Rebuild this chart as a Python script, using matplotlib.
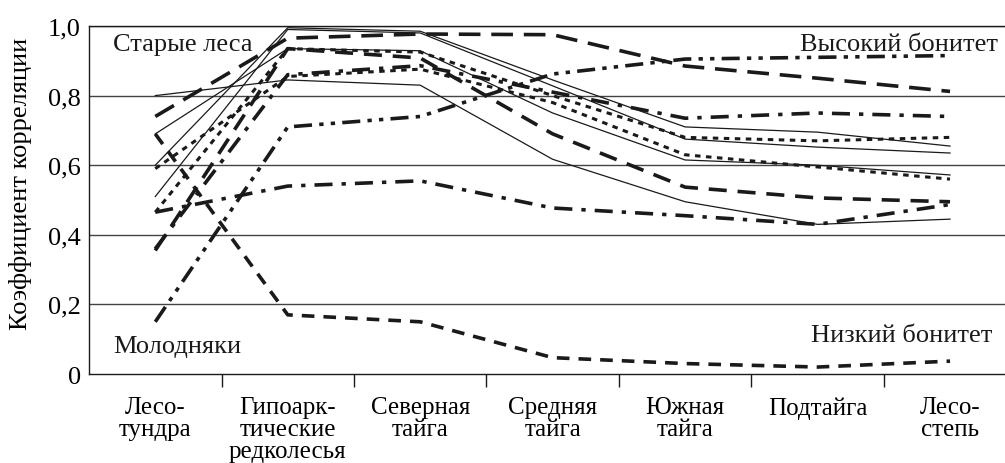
import matplotlib.pyplot as plt

plt.rcParams['font.family'] = ['Liberation Serif', 'DejaVu Serif']

# Зоны (ось X)
zones = ["Лесо-\nтундра", "Гипоарк-\nтические\nредколесья", "Северная\nтайга",
         "Средняя\nтайга", "Южная\nтайга", "Подтайга", "Лесо-\nстепь"]

# Коэффициенты корреляции по зонам (оценка по рисунку)
solid_a = [0.60, 0.995, 0.985, 0.845, 0.71, 0.695, 0.655]
solid_b = [0.51, 0.99, 0.98, 0.828, 0.675, 0.652, 0.635]
solid_c = [0.69, 0.935, 0.929, 0.75, 0.615, 0.60, 0.572]
solid_d = [0.80, 0.845, 0.83, 0.617, 0.495, 0.43, 0.445]
long_dash = [0.74, 0.965, 0.977, 0.975, 0.885, 0.85, 0.812]
dashed_mid = [0.355, 0.935, 0.908, 0.69, 0.537, 0.506, 0.495]
dash_dot_hi = [0.36, 0.86, 0.886, 0.81, 0.735, 0.75, 0.74]
dash_dot_lo = [0.465, 0.54, 0.555, 0.477, 0.455, 0.43, 0.487]
dash_dot_dot = [0.15, 0.71, 0.74, 0.862, 0.905, 0.91, 0.915]
dotted_hi = [0.465, 0.935, 0.925, 0.80, 0.68, 0.67, 0.68]
dotted_lo = [0.59, 0.855, 0.876, 0.78, 0.63, 0.595, 0.56]
young = [0.69, 0.17, 0.15, 0.047, 0.03, 0.02, 0.037]

x = list(range(len(zones)))
ink = '#1a1a1a'
fs = 19

fig = plt.figure(figsize=(10.05, 4.64), dpi=100)
ax = fig.add_axes([0.0886, 0.1918, 0.9114, 0.75])

# horizontal grid
for g in [0.2, 0.4, 0.6, 0.8, 1.0]:
    ax.axhline(g, color='#444444', lw=1.0, zorder=1)

# thin solid lines
for s in [solid_a, solid_b, solid_c, solid_d]:
    ax.plot(x, s, color=ink, lw=0.9, zorder=3)

ax.plot(x, long_dash, color=ink, lw=2.6, dashes=(6, 3), zorder=3)
ax.plot(x, dashed_mid, color=ink, lw=2.6, dashes=(5, 3), zorder=3)
ax.plot(x, dash_dot_hi, color=ink, lw=2.6, dashes=(5, 2.5, 1.2, 2.5), zorder=3)
ax.plot(x, dash_dot_lo, color=ink, lw=2.6, dashes=(5, 2.5, 1.2, 2.5), zorder=3)
ax.plot(x, dash_dot_dot, color=ink, lw=2.6, dashes=(5, 2, 1.2, 2, 1.2, 2), zorder=3)
ax.plot(x, dotted_hi, color=ink, lw=2.2, dashes=(1.8, 1.8), zorder=3)
ax.plot(x, dotted_lo, color=ink, lw=2.2, dashes=(1.8, 1.8), zorder=3)
ax.plot(x, young, color=ink, lw=2.6, dashes=(3.5, 2.5), zorder=3)

ax.set_xlim(-0.5, 6.415)
ax.set_ylim(0, 1.0)

# boundary ticks and centered labels
ax.set_xticks([i + 0.5 for i in range(6)])
ax.set_xticklabels([])
ax.set_xticks(x, minor=True)
ax.set_xticklabels(zones, minor=True, fontsize=18, linespacing=0.98, va='top')
ax.tick_params(axis='x', which='major', length=9, width=1.0, direction='out', color=ink)
ax.tick_params(axis='x', which='minor', length=0, pad=16)

yt = [0, 0.2, 0.4, 0.6, 0.8, 1.0]
ax.set_yticks(yt)
ax.set_yticklabels(["0", "0,2", "0,4", "0,6", "0,8", "1,0"], fontsize=fs)
ax.tick_params(axis='y', length=0, pad=6)
ax.set_ylabel("Коэффициент корреляции", fontsize=fs)
ax.yaxis.set_label_coords(-0.062, 0.55)

ax.spines['right'].set_visible(False)
for sp in ['left', 'bottom', 'top']:
    ax.spines[sp].set_color(ink)
    ax.spines[sp].set_linewidth(1.0)

ax.text(-0.32, 0.948, "Старые леса", fontsize=fs, ha='left', va='center', color=ink)
ax.text(6.36, 0.948, "Высокий бонитет", fontsize=fs, ha='right', va='center', color=ink)
ax.text(6.32, 0.112, "Низкий бонитет", fontsize=fs, ha='right', va='center', color=ink)
ax.text(-0.32, 0.08, "Молодняки", fontsize=fs, ha='left', va='center', color=ink)

fig.savefig("out.png", dpi=100)
